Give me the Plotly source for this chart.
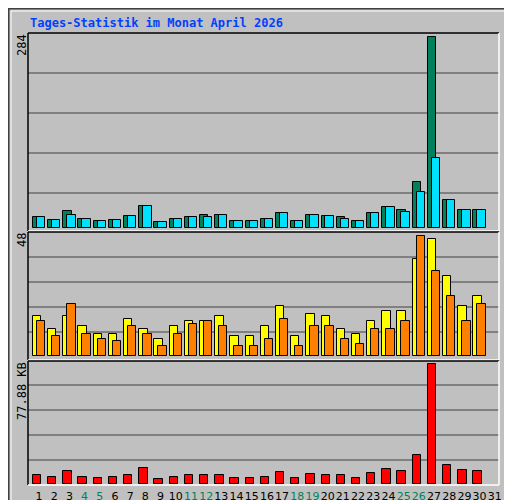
import plotly.graph_objects as go

# Tages-Statistik April 2026 (Webalizer-style)
days = list(range(1, 31))
day_labels = [str(d) for d in range(1, 32)]
weekend = [4, 5, 11, 12, 18, 19, 25, 26]

anfragen = [16, 12, 25, 13, 10, 12, 18, 33, 9, 13, 16, 19, 19, 10, 10,
            13, 22, 10, 19, 18, 16, 10, 22, 31, 27, 69, 284, 42, 27, 27]
seiten = [16, 12, 19, 13, 10, 12, 18, 33, 9, 13, 16, 16, 19, 10, 10,
          13, 22, 10, 19, 18, 13, 10, 22, 31, 24, 54, 104, 42, 27, 27]
besuche = [16, 11, 16, 12, 9, 9, 15, 11, 7, 12, 14, 14, 16, 8, 8,
           12, 20, 8, 17, 16, 11, 9, 14, 18, 18, 39, 47, 32, 20, 24]
rechner = [14, 8, 21, 9, 7, 6, 12, 9, 4, 9, 13, 14, 12, 4, 4,
           7, 15, 4, 12, 12, 7, 5, 11, 11, 14, 48, 34, 24, 14, 21]
volumen_kb = [5.4, 4.1, 8.0, 4.1, 3.5, 4.1, 5.4, 10.0, 2.8, 4.1, 5.4, 5.4, 5.4, 3.5, 3.5,
              4.1, 7.4, 3.5, 6.1, 5.4, 5.4, 3.5, 6.7, 9.4, 8.0, 18.5, 77.88, 12.0, 8.7, 8.0]

BG = "#c0c0c0"
GRID = "#808080"
font = "DejaVu Sans Mono"

fig = go.Figure()
edge = dict(color="black", width=1)
off = 0.13
w = 0.55

fig.add_trace(go.Bar(x=[d - off for d in days], y=anfragen, width=w, marker_color="#00805c",
                     marker_line=edge, xaxis="x", yaxis="y"))
fig.add_trace(go.Bar(x=[d + off for d in days], y=seiten, width=w, marker_color="#00e0ff",
                     marker_line=edge, xaxis="x", yaxis="y"))
fig.add_trace(go.Bar(x=[d - off for d in days], y=besuche, width=w, marker_color="#ffff00",
                     marker_line=edge, xaxis="x2", yaxis="y2"))
fig.add_trace(go.Bar(x=[d + off for d in days], y=rechner, width=w, marker_color="#ff8000",
                     marker_line=edge, xaxis="x2", yaxis="y2"))
fig.add_trace(go.Bar(x=[d - off for d in days], y=volumen_kb, width=w, marker_color="#ff0000",
                     marker_line=edge, xaxis="x3", yaxis="y3"))

xdom = [20 / 512, 491 / 512]
xr = [0.276, 31.276]
xbase = dict(range=xr, domain=xdom, showgrid=False, zeroline=False, fixedrange=True)
ticktext = [f"<span style='color:#00805c'>{t}</span>" if int(t) in weekend else t for t in day_labels]

def ybase(rng, dom, grid):
    return dict(range=rng, domain=dom, tickvals=grid, showticklabels=False, ticks="",
                gridcolor=GRID, gridwidth=1.5, zeroline=False, fixedrange=True)

fig.update_layout(
    width=512, height=500, margin=dict(l=0, r=0, t=0, b=0),
    paper_bgcolor=BG, plot_bgcolor=BG, showlegend=False, barmode="overlay",
    bargap=0,
    font=dict(family=font, size=12, color="black"),
    xaxis=dict(xbase, anchor="y", showticklabels=False),
    xaxis2=dict(xbase, anchor="y2", showticklabels=False),
    xaxis3=dict(xbase, anchor="y3", tickvals=list(range(1, 32)), ticktext=ticktext,
                tickfont=dict(family="DejaVu Sans", size=11), ticks="", tickangle=0,
                automargin=False, ticklabelstandoff=4),
    yaxis=ybase([-4.5, 290.4], [0.554, 0.95], [52.5, 112, 171, 231]),
    yaxis2=ybase([-1.5, 49.7], [0.296, 0.552], [9.6, 19.6, 29.6, 39.6]),
    yaxis3=ybase([-0.2, 80.06], [0.048, 0.294], [15.3, 31.6, 48.1, 64.6]),
)

def px(x, y):
    return x / 512, 1 - y / 500

shapes = []
# outer frame
shapes.append(dict(type="rect", xref="paper", yref="paper", x0=0.001, y0=0.001, x1=0.999, y1=0.999,
                   line=dict(color="#404040", width=2)))
shapes.append(dict(type="rect", xref="paper", yref="paper", x0=3 / 512, y0=3 / 500, x1=509 / 512, y1=497 / 500,
                   line=dict(color="white", width=1)))
for top, bot in [(25, 223), (224, 352), (353, 477)]:
    x0, y0 = px(20, top)
    x1, y1 = px(491, bot)
    shapes.append(dict(type="line", xref="paper", yref="paper", x0=x0, y0=y0, x1=x1, y1=y0, line=dict(color="black", width=1.5)))
    shapes.append(dict(type="line", xref="paper", yref="paper", x0=x0, y0=y0, x1=x0, y1=y1, line=dict(color="black", width=1.5)))
    shapes.append(dict(type="line", xref="paper", yref="paper", x0=x0, y0=y1, x1=x1, y1=y1, line=dict(color="white", width=1.5)))
    shapes.append(dict(type="line", xref="paper", yref="paper", x0=x1, y0=y0, x1=x1, y1=y1, line=dict(color="white", width=1.5)))
fig.update_layout(shapes=shapes)

ann = []
ann.append(dict(text="<b>Tages-Statistik im Monat April 2026</b>", x=20 / 512, y=1 - 15 / 500,
                xref="paper", yref="paper", xanchor="left", yanchor="middle", showarrow=False,
                font=dict(family=font, size=12, color="#0040ff")))
for txt, yc in [("284", 37), ("48", 232), ("77.88 KB", 383)]:
    ann.append(dict(text=txt, x=14 / 512, y=1 - yc / 500, xref="paper", yref="paper", textangle=-90,
                    xanchor="center", yanchor="middle", showarrow=False, font=dict(family=font, size=12)))
sl = "<span style='color:#404040'> / </span>"
parts = [("Volumen", "#ff0000"), ("Vol. In", "#0040ff"), ("Vol. Out", "#00805c"), ("Rechner", "#ff8000"),
         ("Besuche", "#ffff00"), ("Seiten", "#00e0ff"), ("Dateien", "#0040ff"), ("Anfragen", "#00805c")]
side = sl.join(f"<span style='color:{c}'>{t}</span>" for t, c in parts)
ann.append(dict(text=side, x=501 / 512, y=1 - 262 / 500, xref="paper", yref="paper", textangle=-90,
                xanchor="center", yanchor="middle", showarrow=False, font=dict(family=font, size=10)))
fig.update_layout(annotations=ann)

fig.write_html("out.html")
